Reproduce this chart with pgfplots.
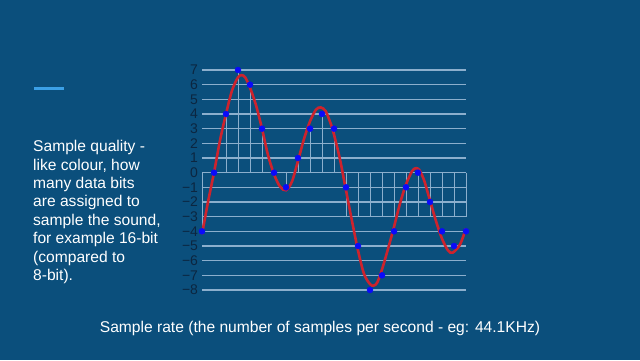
\documentclass[border=0pt]{standalone}
\usepackage{pgfplots}
\pgfplotsset{compat=1.18}
\usepackage{fontspec}
\setmainfont{Liberation Sans}
\definecolor{bg}{RGB}{11,79,124}
\definecolor{gridc}{RGB}{140,175,205}
\definecolor{tickc}{RGB}{12,38,64}
\definecolor{accent}{RGB}{60,160,230}
\definecolor{wave}{RGB}{205,35,45}
\definecolor{pt}{RGB}{10,10,250}
\begin{document}
\begin{tikzpicture}[x=1pt,y=1pt]
\fill[bg] (0,0) rectangle (640,360);
\draw[accent, line width=2.6pt] (34,271.3) -- (64,271.3);
\begin{scope}[every node/.style={anchor=base west, inner sep=0pt, text=white, font=\fontsize{15.6}{17}\selectfont}]
\node at (33,360-151.7) {Sample quality -};
\node at (33,360-170.1) {like colour, how};
\node at (33,360-188.5) {many data bits};
\node at (33,360-206.9) {are assigned to};
\node at (33,360-225.3) {sample the sound,};
\node at (33,360-243.7) {for example 16-bit};
\node at (33,360-262.1) {(compared to};
\node at (33,360-280.5) {8-bit).};
\end{scope}
\node[anchor=base, inner sep=0pt, text=white, font=\fontsize{15.6}{17}\selectfont] at (320,360-332) {Sample rate (the number of samples per second - eg: 44.1KHz)};
\begin{axis}[
  at={(202pt,70pt)}, anchor=south west,
  scale only axis, width=264pt, height=220pt,
  xmin=0, xmax=22, ymin=-8, ymax=7,
  clip=false,
  axis line style={draw=none},
  xtick=\empty,
  ytick={-8,-7,...,7},
  yticklabels={−8,−7,−6,−5,−4,−3,−2,−1,0,1,2,3,4,5,6,7},
  yticklabel style={text=tickc, font=\fontsize{14}{15}\selectfont, xshift=-0.5pt},
  major tick length=0pt,
  ymajorgrids,
  grid style={gridc, line width=1.3pt},
]
% stems
\addplot[ycomb, gridc, line width=0.8pt, mark=none] coordinates {
(0,-4) (2,4) (3,7) (4,6) (5,3) (7,-1) (8,1) (9,3) (10,4) (11,3)
(12,-3) (13,-3) (14,-3) (15,-3) (16,-3) (17,-3) (18,-3) (19,-3) (20,-3) (21,-3) (22,-3)
};
\addplot[gridc, line width=1.3pt] coordinates {(0,0) (22,0)};
% wave
\addplot[wave, line width=2.6pt, smooth, tension=0.5, mark=none] coordinates {
(0,-4.2) (0.5,-2.0) (1,0) (1.5,2.2) (2,4.0) (2.5,5.6) (3,6.5) (3.3,6.65) (3.6,6.5) (4,5.8)
(4.5,4.6) (5,3.0) (5.5,1.2) (6,-0.1) (6.5,-0.95) (7,-1.2) (7.5,-0.6) (8,0.8) (8.5,2.3)
(9,3.5) (9.5,4.3) (9.9,4.45) (10.3,4.2) (10.7,3.4) (11,2.6) (11.5,0.9) (12,-1.2) (12.5,-3.3)
(13,-5.3) (13.5,-6.9) (14,-7.6) (14.3,-7.7) (14.6,-7.5) (15,-6.6) (15.5,-5.2) (16,-3.7)
(16.5,-2.1) (17,-0.8) (17.5,0.1) (17.8,0.3) (18.1,0.2) (18.5,-0.5) (19,-1.9) (19.5,-3.3)
(20,-4.5) (20.5,-5.3) (20.9,-5.45) (21.5,-4.9) (22,-3.8)
};
% samples
\addplot[only marks, mark=*, mark size=3pt, pt, mark options={draw=pt, fill=pt}] coordinates {
(0,-4) (1,0) (2,4) (3,7) (4,6) (5,3) (6,0) (7,-1) (8,1) (9,3) (10,4) (11,3)
(12,-1) (13,-5) (14,-8) (15,-7) (16,-4) (17,-1) (18,0) (19,-2) (20,-4) (21,-5) (22,-4)
};
\end{axis}
\end{tikzpicture}
\end{document}
